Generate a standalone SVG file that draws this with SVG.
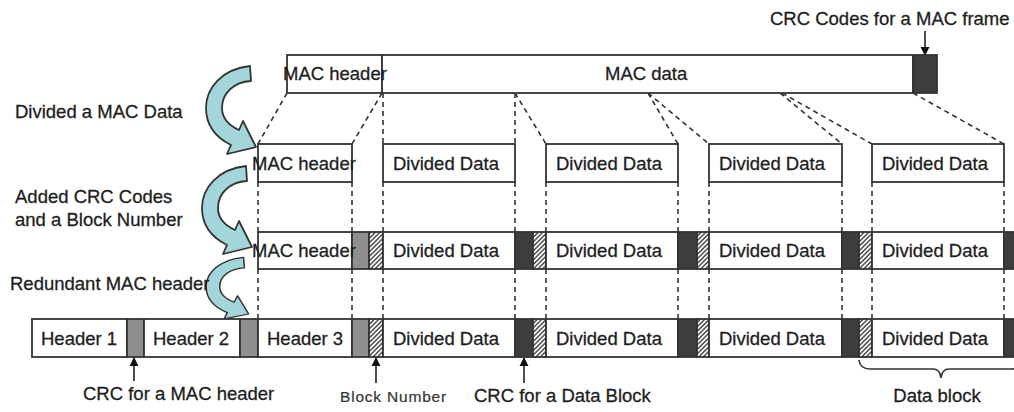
<svg xmlns="http://www.w3.org/2000/svg" width="1014" height="412" viewBox="0 0 1014 412">
<style>
  .t { font-family: "Liberation Sans", Arial, sans-serif; font-size: 18.5px; fill: #1e1e1e; stroke: #1e1e1e; stroke-width: 0.3; }
  .box { fill: #fff; stroke: #333; stroke-width: 1.8; }
  .gray { fill: #8f8f8f; stroke: #333; stroke-width: 1.8; }
  .dark { fill: #3d3d3d; stroke: #333; stroke-width: 1.8; }
  .hatch { fill: url(#hatchPat); stroke: #333; stroke-width: 1.8; }
  .dash { stroke: #333; stroke-width: 1.6; stroke-dasharray: 5 4; fill: none; }
  .ptr { stroke: #222; stroke-width: 1.6; fill: none; marker-end: url(#tri); }
  .curv { fill: #a3d6da; stroke: #333; stroke-width: 1.8; stroke-linejoin: round; }
</style>
<defs>
  <pattern id="hatchPat" patternUnits="userSpaceOnUse" width="3.2" height="3.2" patternTransform="rotate(45)">
    <rect width="3.2" height="3.2" fill="#fff"/>
    <line x1="0.9" y1="0" x2="0.9" y2="3.2" stroke="#333" stroke-width="1.3"/>
  </pattern>
  <marker id="tri" viewBox="0 0 10 10" refX="9" refY="5" markerWidth="9" markerHeight="10" markerUnits="userSpaceOnUse" orient="auto">
    <path d="M0,0 L10,5 L0,10 z" fill="#111"/>
  </marker>
  <path id="carrow" d="M 250 66 C 222 69, 206 88, 206 108 C 206 124, 215 137, 231 145 L 227 154 L 256 147 L 243 121 L 239 130 C 228 125, 222 117, 222 108 C 222 93, 234 82, 251 81 Z"/>
</defs>

<g id="connectors">
  <line class="dash" x1="287" y1="93" x2="258" y2="144"/>
  <line class="dash" x1="382" y1="93" x2="352" y2="144"/>
  <line class="dash" x1="383" y1="93" x2="383" y2="144"/>
  <line class="dash" x1="515" y1="93" x2="515" y2="144"/>
  <line class="dash" x1="515" y1="93" x2="546" y2="144"/>
  <line class="dash" x1="648" y1="93" x2="678" y2="144"/>
  <line class="dash" x1="648" y1="93" x2="709" y2="144"/>
  <line class="dash" x1="780" y1="93" x2="842" y2="144"/>
  <line class="dash" x1="782" y1="93" x2="872" y2="144"/>
  <line class="dash" x1="913" y1="93" x2="1004" y2="144"/>
  <path class="dash" d="M258 182V232 M352 182V232 M383 182V232 M515 182V232 M546 182V232 M678 182V232 M709 182V232 M842 182V232 M872 182V232 M1004 182V232"/>
  <path class="dash" d="M258 269V319 M352 269V319 M383 269V319 M515 269V319 M546 269V319 M678 269V319 M709 269V319 M842 269V319 M872 269V319 M1004 269V319"/>
  <line class="ptr" x1="925" y1="31" x2="925" y2="55"/>
  <line class="ptr" x1="134" y1="381" x2="134" y2="358"/>
  <line class="ptr" x1="376" y1="383" x2="376" y2="358"/>
  <line class="ptr" x1="524" y1="383" x2="524" y2="358"/>
  <path d="M 859 360 Q 860 369 870 369 L 933 369 Q 940 369 941 378 Q 942 369 949 369 L 1012 369 Q 1022 369 1023 360" fill="none" stroke="#333" stroke-width="1.6"/>
</g>

<g id="curved-arrows">
  <use href="#carrow" class="curv"/>
  <use href="#carrow" class="curv" transform="translate(-4,100)"/>
  <use href="#carrow" class="curv" transform="translate(31.05,211.1) scale(0.85,0.7)" style="vector-effect: non-scaling-stroke"/>
</g>

<g id="labels">
  <text class="t" x="770" y="25">CRC Codes for a MAC frame</text>
  <text class="t" x="15" y="118">Divided a MAC Data</text>
  <text class="t" x="15" y="203">Added CRC Codes</text>
  <text class="t" x="15" y="226">and a Block Number</text>
  <text class="t" x="10" y="290">Redundant MAC header</text>
  <text class="t" x="83" y="400">CRC for a MAC header</text>
  <text class="t" x="340" y="402" style="font-size:15.5px; letter-spacing:0.8px; fill:#333; stroke:#333; stroke-width:0.2">Block Number</text>
  <text class="t" x="474" y="402">CRC for a Data Block</text>
  <text class="t" x="937" y="402" text-anchor="middle">Data block</text>
</g>

<g id="mac-frame">
  <rect class="box" x="287" y="55" width="95" height="38"/>
  <rect class="box" x="382" y="55" width="531" height="38"/>
  <rect class="dark" x="913" y="55" width="24" height="38"/>
  <text class="t" x="283" y="80">MAC header</text>
  <text class="t" x="605" y="80">MAC data</text>
</g>

<g id="divided-row">
  <rect class="box" x="258" y="144" width="94" height="38"/>
  <rect class="box" x="383" y="144" width="132" height="38"/>
  <rect class="box" x="546" y="144" width="132" height="38"/>
  <rect class="box" x="709" y="144" width="133" height="38"/>
  <rect class="box" x="872" y="144" width="132" height="38"/>
  <text class="t" x="252" y="170">MAC header</text>
  <text class="t" x="393" y="170">Divided Data</text>
  <text class="t" x="556" y="170">Divided Data</text>
  <text class="t" x="719" y="170">Divided Data</text>
  <text class="t" x="882" y="170">Divided Data</text>
</g>

<g id="crc-row">
  <rect class="box" x="258" y="232" width="94" height="37"/>
  <rect class="gray" x="352" y="232" width="17" height="37"/>
  <rect class="hatch" x="369" y="232" width="14" height="37"/>
  <rect class="box" x="383" y="232" width="132" height="37"/>
  <rect class="dark" x="515" y="232" width="18" height="37"/>
  <rect class="hatch" x="533" y="232" width="13" height="37"/>
  <rect class="box" x="546" y="232" width="132" height="37"/>
  <rect class="dark" x="678" y="232" width="19" height="37"/>
  <rect class="hatch" x="697" y="232" width="12" height="37"/>
  <rect class="box" x="709" y="232" width="133" height="37"/>
  <rect class="dark" x="842" y="232" width="17" height="37"/>
  <rect class="hatch" x="859" y="232" width="13" height="37"/>
  <rect class="box" x="872" y="232" width="132" height="37"/>
  <rect class="dark" x="1004" y="232" width="18" height="37"/>
  <text class="t" x="252" y="257">MAC header</text>
  <text class="t" x="393" y="257">Divided Data</text>
  <text class="t" x="556" y="257">Divided Data</text>
  <text class="t" x="719" y="257">Divided Data</text>
  <text class="t" x="882" y="257">Divided Data</text>
</g>

<g id="redundant-row">
  <rect class="box" x="32" y="319" width="95" height="38"/>
  <rect class="gray" x="127" y="319" width="17" height="38"/>
  <rect class="box" x="144" y="319" width="96" height="38"/>
  <rect class="gray" x="240" y="319" width="18" height="38"/>
  <rect class="box" x="258" y="319" width="94" height="38"/>
  <rect class="gray" x="352" y="319" width="17" height="38"/>
  <rect class="hatch" x="369" y="319" width="14" height="38"/>
  <rect class="box" x="383" y="319" width="132" height="38"/>
  <rect class="dark" x="515" y="319" width="18" height="38"/>
  <rect class="hatch" x="533" y="319" width="13" height="38"/>
  <rect class="box" x="546" y="319" width="132" height="38"/>
  <rect class="dark" x="678" y="319" width="19" height="38"/>
  <rect class="hatch" x="697" y="319" width="12" height="38"/>
  <rect class="box" x="709" y="319" width="133" height="38"/>
  <rect class="dark" x="842" y="319" width="17" height="38"/>
  <rect class="hatch" x="859" y="319" width="13" height="38"/>
  <rect class="box" x="872" y="319" width="132" height="38"/>
  <rect class="dark" x="1004" y="319" width="18" height="38"/>
  <text class="t" x="41" y="345">Header 1</text>
  <text class="t" x="153" y="345">Header 2</text>
  <text class="t" x="267" y="345">Header 3</text>
  <text class="t" x="393" y="345">Divided Data</text>
  <text class="t" x="556" y="345">Divided Data</text>
  <text class="t" x="719" y="345">Divided Data</text>
  <text class="t" x="882" y="345">Divided Data</text>
</g>
</svg>
